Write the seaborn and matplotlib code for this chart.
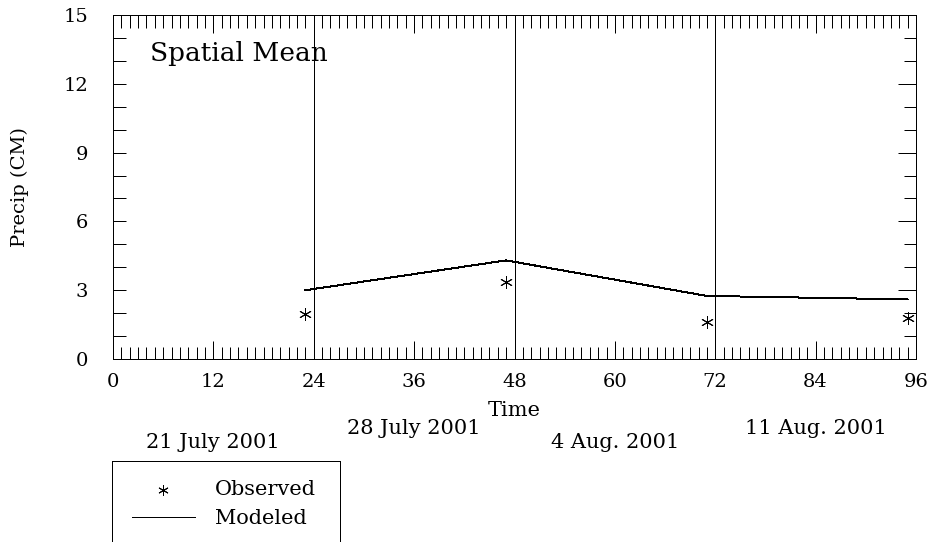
import matplotlib
matplotlib.use("Agg")
import matplotlib.pyplot as plt
from matplotlib.patches import Rectangle
from matplotlib.ticker import MultipleLocator
import seaborn as sns
import pandas as pd

# Hours since start of the period and precipitation (cm)
hours = [23, 47, 71, 95]
observed = [1.95, 3.35, 1.6, 1.8]
modeled = [3.0, 4.3, 2.75, 2.6]

# Week boundaries and week labels
week_bounds = [24, 48, 72]
week_label_x = [12, 36, 60, 84]
week_labels = ["21 July 2001", "28 July 2001", "4 Aug. 2001", "11 Aug. 2001"]

df = pd.DataFrame({"hour": hours, "observed": observed, "modeled": modeled})

sns.set_style("ticks")
plt.rcParams["font.family"] = ["DejaVu Serif"]
plt.rcParams["lines.antialiased"] = False
plt.rcParams["patch.antialiased"] = False
for key in ("text.color", "axes.labelcolor", "xtick.color", "ytick.color",
            "axes.edgecolor"):
    plt.rcParams[key] = "black"

W, H = 931, 542
fig = plt.figure(figsize=(W / 100, H / 100), dpi=100)
L, R, T, B = 113, 916, 15, 359
ax = fig.add_axes([L / W, 1 - B / H, (R - L) / W, (B - T) / H])

lw = 0.72
for x in week_bounds:
    ax.axvline(x, color="black", lw=lw)

sns.lineplot(data=df, x="hour", y="modeled", ax=ax, color="black", lw=lw,
             label="Modeled")
sns.scatterplot(data=df, x="hour", y="observed", ax=ax, marker=(6, 2, 0),
                s=75, color="black", edgecolor="black", linewidth=lw,
                label="Observed")

ax.set_xlim(0, 96)
ax.set_ylim(0, 15)
ax.xaxis.set_major_locator(MultipleLocator(12))
ax.xaxis.set_minor_locator(MultipleLocator(1))
ax.yaxis.set_major_locator(MultipleLocator(3))
ax.yaxis.set_minor_locator(MultipleLocator(1))

for s in ax.spines.values():
    s.set_linewidth(lw)
    s.set_color("black")

ax.tick_params(axis="x", which="both", direction="in", top=True, bottom=True,
               width=lw, labelsize=14, pad=10)
ax.tick_params(axis="x", which="major", length=13)
ax.tick_params(axis="x", which="minor", length=9)
ax.tick_params(axis="y", which="both", direction="in", left=True, right=False,
               length=9, width=lw, labelsize=14, pad=18)

# right-hand ticks are longer at the labelled values
sec = ax.secondary_yaxis("right")
sec.yaxis.set_major_locator(MultipleLocator(3))
sec.yaxis.set_minor_locator(MultipleLocator(1))
sec.tick_params(which="both", direction="in", width=lw, labelright=False)
sec.tick_params(which="major", length=13)
sec.tick_params(which="minor", length=9)
sec.spines["right"].set_linewidth(lw)

ax.set_xlabel("Time", fontsize=15)
ax.set_ylabel("Precip (CM)", fontsize=14)
ax.xaxis.set_label_coords(0.5, -(401 - B) / (B - T))
ax.yaxis.set_label_coords(-(L - 29) / (R - L), 0.5)

ax.text(0.046, 0.889, "Spatial Mean", transform=ax.transAxes, fontsize=19,
        ha="left", va="center")

trans = ax.get_xaxis_transform()
for i, (x, lab) in enumerate(zip(week_label_x, week_labels)):
    ypix = 442 if i % 2 == 0 else 428
    ax.text(x, -(ypix - B) / (B - T), lab, transform=trans, fontsize=15,
            ha="center", va="center")

handles, labels = ax.get_legend_handles_labels()
order = [labels.index("Observed"), labels.index("Modeled")]
ax.legend([handles[i] for i in order], [labels[i] for i in order],
          loc="upper left", bbox_to_anchor=(132 / W, 1 - 480 / H),
          bbox_transform=fig.transFigure, frameon=False, fontsize=15,
          handlelength=3.0, handletextpad=0.96, labelspacing=0.48,
          borderaxespad=0, borderpad=0, markerscale=0.8)

fig.patches.append(Rectangle((112 / W, -0.05), (340 - 112) / W,
                             1 - 461 / H + 0.05, transform=fig.transFigure,
                             fill=False, lw=lw, edgecolor="black"))

fig.savefig("out.png", dpi=100)
